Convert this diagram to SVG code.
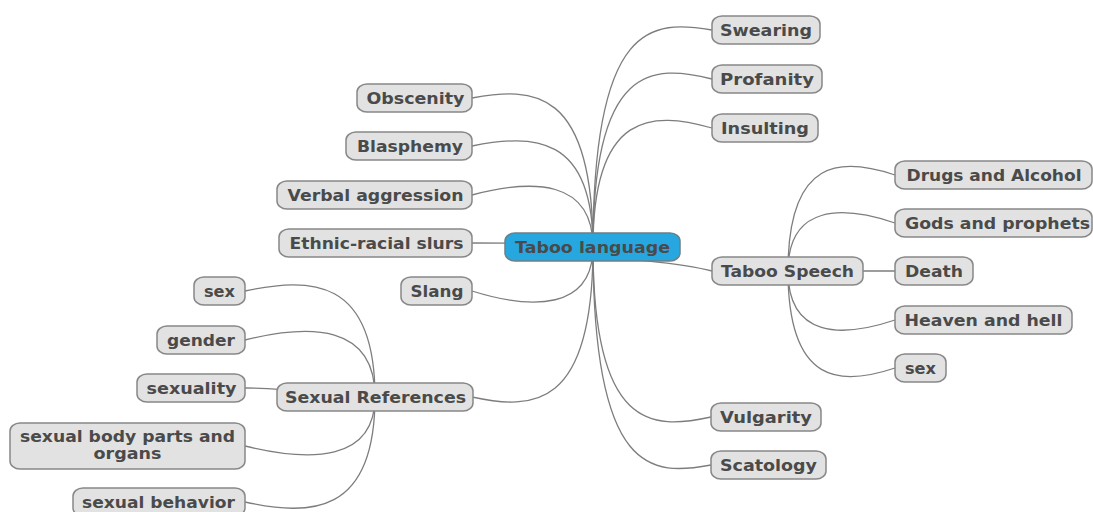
<svg xmlns="http://www.w3.org/2000/svg" width="1093" height="512" viewBox="0 0 1093 512">
<style>
.bg{fill:#ffffff}
.link{fill:none;stroke:#7d7d7d;stroke-width:1.3}
.box{fill:#e2e2e2;stroke:#888888;stroke-width:1.5}
.root{fill:#27a7df;stroke:#6f7f86;stroke-width:1.5}
text{font-family:"DejaVu Sans","Liberation Sans",sans-serif;font-weight:bold;font-size:15px;fill:#4a4a4a;text-anchor:middle}
</style>
<rect class="bg" x="0" y="0" width="1093" height="512"/>
<g id="connectors">
<path class="link" d="M593,247 C593,20 652.5,20 712,30"/>
<path class="link" d="M593,247 C593,64 652.5,64 712,79"/>
<path class="link" d="M593,247 C593,111 652.5,111 712,128"/>
<path class="link" d="M593,247 C600,262 660,258 712,271"/>
<path class="link" d="M593,247 C593,430 652,430 711,417"/>
<path class="link" d="M593,247 C593,476 652,476 711,465"/>
<path class="link" d="M593,247 C593,87 532.5,87 472,98"/>
<path class="link" d="M593,247 C593,134 532.5,134 472,146"/>
<path class="link" d="M593,247 C593,179 532.5,179 472,195"/>
<path class="link" d="M593,247 C560,243 520,243 472,243"/>
<path class="link" d="M593,247 C593,310 532.5,310 472,291"/>
<path class="link" d="M593,247 C593,410 532.5,410 472,397"/>
<path class="link" d="M788,271 C788,157 841.5,157 895,175"/>
<path class="link" d="M788,271 C788,205 841.5,205 895,223"/>
<path class="link" d="M788,271 L895,271"/>
<path class="link" d="M788,271 C788,338 841.5,338 895,320"/>
<path class="link" d="M788,271 C788,386 841.5,386 895,368"/>
<path class="link" d="M375,397 C375,277 310,277 245,291"/>
<path class="link" d="M375,397 C375,324 310,324 245,340"/>
<path class="link" d="M375,397 C330,395 290,388 245,388"/>
<path class="link" d="M375,397 C375,462 310,462 245,446"/>
<path class="link" d="M375,397 C375,516 310,516 245,502"/>
</g>
<g id="n-root"><rect class="root" x="505" y="233" width="175" height="28" rx="10" ry="8"/><text x="592.5" y="252.5" textLength="155" lengthAdjust="spacingAndGlyphs">Taboo language</text></g>
<g id="n-obscenity"><rect class="box" x="357" y="84" width="115" height="28" rx="10" ry="8"/><text x="415.5" y="103.5" textLength="98" lengthAdjust="spacingAndGlyphs">Obscenity</text></g>
<g id="n-blasphemy"><rect class="box" x="346" y="132" width="126" height="28" rx="10" ry="8"/><text x="410" y="151.5" textLength="106" lengthAdjust="spacingAndGlyphs">Blasphemy</text></g>
<g id="n-verbal"><rect class="box" x="277" y="181" width="195" height="28" rx="10" ry="8"/><text x="375.5" y="200.5" textLength="176" lengthAdjust="spacingAndGlyphs">Verbal aggression</text></g>
<g id="n-ethnic"><rect class="box" x="279" y="229" width="193" height="28" rx="10" ry="8"/><text x="376.5" y="248.5" textLength="174" lengthAdjust="spacingAndGlyphs">Ethnic-racial slurs</text></g>
<g id="n-slang"><rect class="box" x="401" y="277" width="71" height="28" rx="10" ry="8"/><text x="437" y="296.5" textLength="53" lengthAdjust="spacingAndGlyphs">Slang</text></g>
<g id="n-sexref"><rect class="box" x="277" y="383" width="196" height="28" rx="10" ry="8"/><text x="375.5" y="402.5" textLength="181" lengthAdjust="spacingAndGlyphs">Sexual References</text></g>
<g id="n-sr-sex"><rect class="box" x="194" y="277" width="51" height="28" rx="10" ry="8"/><text x="219.5" y="296.5" textLength="31" lengthAdjust="spacingAndGlyphs">sex</text></g>
<g id="n-gender"><rect class="box" x="157" y="326" width="88" height="28" rx="10" ry="8"/><text x="201" y="345.5" textLength="68" lengthAdjust="spacingAndGlyphs">gender</text></g>
<g id="n-sexuality"><rect class="box" x="137" y="374" width="108" height="28" rx="10" ry="8"/><text x="191.5" y="393.5" textLength="90" lengthAdjust="spacingAndGlyphs">sexuality</text></g>
<g id="n-bodyparts"><rect class="box" x="10" y="423" width="235" height="46" rx="10" ry="8"/><text x="127.5" y="441.5" textLength="215" lengthAdjust="spacingAndGlyphs">sexual body parts and</text><text x="127.5" y="458.5" textLength="68" lengthAdjust="spacingAndGlyphs">organs</text></g>
<g id="n-behavior"><rect class="box" x="73" y="488" width="172" height="28" rx="10" ry="8"/><text x="158.5" y="507.5" textLength="153" lengthAdjust="spacingAndGlyphs">sexual behavior</text></g>
<g id="n-swearing"><rect class="box" x="712" y="16" width="108" height="28" rx="10" ry="8"/><text x="766" y="35.5" textLength="92" lengthAdjust="spacingAndGlyphs">Swearing</text></g>
<g id="n-profanity"><rect class="box" x="712" y="65" width="110" height="28" rx="10" ry="8"/><text x="767" y="84.5" textLength="94" lengthAdjust="spacingAndGlyphs">Profanity</text></g>
<g id="n-insulting"><rect class="box" x="712" y="114" width="106" height="28" rx="10" ry="8"/><text x="765" y="133.5" textLength="88" lengthAdjust="spacingAndGlyphs">Insulting</text></g>
<g id="n-tabooSpeech"><rect class="box" x="712" y="257" width="151" height="28" rx="10" ry="8"/><text x="787.5" y="276.5" textLength="133" lengthAdjust="spacingAndGlyphs">Taboo Speech</text></g>
<g id="n-vulgarity"><rect class="box" x="711" y="403" width="110" height="28" rx="10" ry="8"/><text x="766" y="422.5" textLength="92" lengthAdjust="spacingAndGlyphs">Vulgarity</text></g>
<g id="n-scatology"><rect class="box" x="711" y="451" width="115" height="28" rx="10" ry="8"/><text x="768.5" y="470.5" textLength="97" lengthAdjust="spacingAndGlyphs">Scatology</text></g>
<g id="n-drugs"><rect class="box" x="895" y="161" width="197" height="28" rx="10" ry="8"/><text x="994" y="180.5" textLength="175" lengthAdjust="spacingAndGlyphs">Drugs and Alcohol</text></g>
<g id="n-gods"><rect class="box" x="895" y="209" width="197" height="28" rx="10" ry="8"/><text x="997.5" y="228.5" textLength="185" lengthAdjust="spacingAndGlyphs">Gods and prophets</text></g>
<g id="n-death"><rect class="box" x="895" y="257" width="78" height="28" rx="10" ry="8"/><text x="934" y="276.5" textLength="58" lengthAdjust="spacingAndGlyphs">Death</text></g>
<g id="n-heaven"><rect class="box" x="895" y="306" width="177" height="28" rx="10" ry="8"/><text x="983.5" y="325.5" textLength="158" lengthAdjust="spacingAndGlyphs">Heaven and hell</text></g>
<g id="n-ts-sex"><rect class="box" x="895" y="354" width="51" height="28" rx="10" ry="8"/><text x="920.5" y="373.5" textLength="31" lengthAdjust="spacingAndGlyphs">sex</text></g>
</svg>
